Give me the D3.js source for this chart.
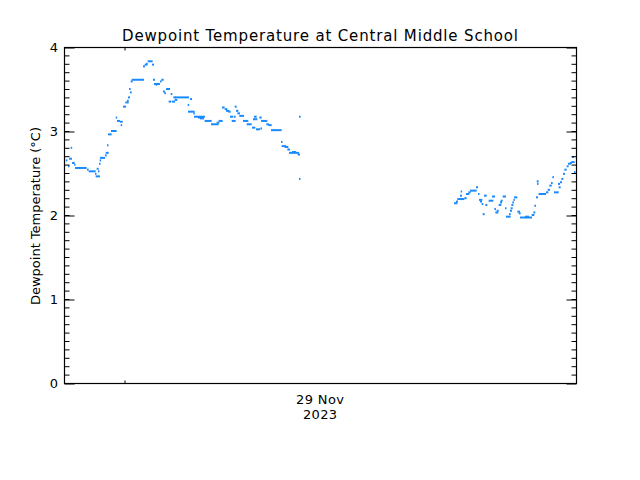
<!DOCTYPE html>
<html>
<head>
<meta charset="utf-8">
<script src="https://cdn.jsdelivr.net/npm/d3@7/dist/d3.min.js"></script>
<style>
  html, body { margin: 0; padding: 0; background: #fff; }
  svg { display: block; }
  text { font-family: "DejaVu Sans", sans-serif; fill: #000; }
</style>
</head>
<body>
<svg id="chart" width="640" height="480"></svg>
<script>
// Minutes since 28 Nov 2023 21:00 (start and end of each run of equal readings)
const runStart = [
  5, 12, 15, 20, 24, 30, 33, 69, 74, 93, 95, 98, 102, 105, 107, 108, 123, 125, 129, 132,
  141, 155, 159, 168, 170, 177, 184, 189, 192, 195, 198, 200, 203, 237, 242, 246, 251, 264, 267, 270,
  275, 288, 292, 297, 301, 306, 314, 320, 323, 328, 332, 333, 371, 378, 372, 388, 390, 402, 408, 422,
  441, 458, 464, 474, 482, 486, 493, 498, 503, 510, 512, 516, 520, 526, 537, 548, 564, 567, 570, 576,
  586, 589, 591, 607, 613, 621, 651, 653, 662, 670, 675, 684, 701, 705, 705,
  1170, 1176, 1180, 1188, 1190, 1201, 1206, 1213, 1218, 1236, 1242, 1245, 1248, 1253, 1256, 1260, 1264, 1274, 1284, 1291,
  1294, 1298, 1304, 1308, 1310, 1316, 1323, 1326, 1335, 1338, 1340, 1342, 1345, 1348, 1350, 1360, 1364, 1368, 1383, 1403,
  1408, 1411, 1416, 1418, 1419, 1424, 1446, 1451, 1456, 1461, 1465, 1470, 1482, 1484, 1488, 1492, 1497, 1501, 1508, 1512,
  1518, 1522, 1524, 1530
];
const runEnd = [
  10, 15, 24, 24, 32, 33, 68, 74, 95, 96, 108, 104, 105, 108, 110, 123, 128, 134, 132, 143,
  158, 159, 168, 176, 174, 186, 194, 194, 198, 200, 203, 206, 240, 243, 250, 251, 266, 270, 273, 288,
  279, 293, 299, 303, 306, 318, 321, 325, 333, 335, 340, 375, 374, 384, 392, 392, 423, 418, 420, 443,
  464, 466, 476, 482, 490, 496, 500, 508, 515, 515, 518, 523, 528, 540, 553, 563, 574, 580, 578, 588,
  593, 594, 610, 615, 623, 653, 654, 666, 673, 678, 705, 696, 708, 710, 708,
  1180, 1182, 1201, 1194, 1194, 1208, 1216, 1220, 1238, 1242, 1246, 1255, 1254, 1258, 1262, 1268, 1270, 1288, 1293, 1296,
  1303, 1304, 1312, 1314, 1316, 1326, 1326, 1340, 1340, 1344, 1346, 1348, 1350, 1352, 1360, 1368, 1370, 1404, 1395, 1411,
  1414, 1416, 1422, 1424, 1422, 1446, 1453, 1458, 1463, 1466, 1470, 1484, 1488, 1490, 1494, 1498, 1503, 1508, 1514, 1520,
  1524, 1532, 1530, 1534
];
const dewpoint = [
  2.65, 2.58, 2.67, 2.80, 2.62, 2.60, 2.56, 2.54, 2.52, 2.49, 2.46, 2.55, 2.52, 2.61, 2.65, 2.68, 2.71, 2.74, 2.83, 2.96,
  3.00, 3.16, 3.12, 3.11, 3.07, 3.29, 3.34, 3.36, 3.40, 3.50, 3.46, 3.59, 3.61, 3.77, 3.79, 3.80, 3.83, 3.79, 3.61, 3.56,
  3.55, 3.59, 3.61, 3.47, 3.45, 3.50, 3.35, 3.44, 3.35, 3.40, 3.37, 3.40, 3.31, 3.38, 3.23, 3.21, 3.17, 3.16, 3.15, 3.12,
  3.08, 3.10, 3.12, 3.28, 3.26, 3.24, 3.23, 3.17, 3.12, 3.17, 3.29, 3.24, 3.21, 3.18, 3.12, 3.08, 3.04, 3.14, 3.17, 3.02,
  3.16, 3.03, 3.12, 3.08, 3.07, 3.01, 2.87, 2.82, 2.81, 2.78, 2.74, 2.75, 2.72, 3.17, 2.43,
  2.14, 2.16, 2.19, 2.23, 2.28, 2.20, 2.25, 2.27, 2.29, 2.33, 2.25, 2.18, 2.16, 2.13, 2.01, 2.23, 2.12, 2.17, 2.22, 2.07,
  2.03, 2.05, 2.12, 2.15, 2.17, 2.22, 2.08, 1.98, 2.01, 2.05, 2.08, 2.12, 2.15, 2.18, 2.21, 2.04, 2.02, 1.97, 1.98, 2.00,
  2.03, 2.11, 2.21, 2.40, 2.37, 2.25, 2.27, 2.30, 2.35, 2.38, 2.45, 2.27, 2.37, 2.33, 2.39, 2.43, 2.49, 2.54, 2.58, 2.61,
  2.62, 2.63, 2.69, 2.51
];
const timeDomain = [0, 1536];
const timeTicks = [180];            // midnight, 29 Nov
const dateLabelTime = [768];
const dateLabelLines = ["29 Nov", "2023"];
const yTicks = [0, 1, 2, 3, 4];
const yMinorTicks = d3.range(0, 40).map(i => i / 10);

const svg = d3.select("#chart");
const pLeft = 64, pRight = 576, pTop = 47, pBottom = 383;
const x = d3.scaleLinear().domain(timeDomain).range([pLeft, pRight]);
const y = d3.scaleLinear().domain([0, 4]).range([pBottom, pTop]);

const runs = runStart.map((s, i) => ({ s, e: runEnd[i], v: dewpoint[i] }));

// data
svg.append("g").selectAll("rect").data(runs).join("rect")
  .attr("x", d => x(d.s))
  .attr("width", d => Math.max(x(d.e) - x(d.s), 1.5))
  .attr("y", d => y(d.v) - 1)
  .attr("height", 2)
  .attr("fill", "#1a8aff");

// frame
svg.append("rect")
  .attr("x", pLeft + 0.5).attr("y", pTop + 0.5)
  .attr("width", pRight - pLeft).attr("height", pBottom - pTop)
  .attr("fill", "none").attr("stroke", "#000").attr("stroke-width", 1.2);

// y axes (left labels, ticks inward both sides)
const yAxisL = d3.axisRight(y).tickValues(yTicks).tickSize(10).tickFormat("");
const gL = svg.append("g").attr("transform", `translate(${pLeft + 0.5},0.5)`).call(yAxisL);
gL.select(".domain").remove();
gL.append("g").selectAll("line").data(yMinorTicks).join("line")
  .attr("x1", 0).attr("x2", 5).attr("y1", d => y(d)).attr("y2", d => y(d)).attr("stroke", "#000");

const yAxisR = d3.axisLeft(y).tickValues(yTicks).tickSize(10).tickFormat("");
const gR = svg.append("g").attr("transform", `translate(${pRight + 0.5},0.5)`).call(yAxisR);
gR.select(".domain").remove();
gR.append("g").selectAll("line").data(yMinorTicks).join("line")
  .attr("x1", 0).attr("x2", -5).attr("y1", d => y(d)).attr("y2", d => y(d)).attr("stroke", "#000");

svg.append("g").selectAll("text").data(yTicks).join("text")
  .attr("x", 58).attr("y", d => y(d) + 1)
  .attr("text-anchor", "end").attr("dominant-baseline", "middle")
  .attr("font-size", 13).text(d => d);

// x ticks (bottom and top, inward)
const xAxisB = d3.axisTop(x).tickValues(timeTicks).tickSize(3).tickFormat("");
const gB = svg.append("g").attr("transform", `translate(0.5,${pBottom + 0.5})`).call(xAxisB);
gB.select(".domain").remove();
const xAxisT = d3.axisBottom(x).tickValues(timeTicks).tickSize(3).tickFormat("");
const gT = svg.append("g").attr("transform", `translate(0.5,${pTop + 0.5})`).call(xAxisT);
gT.select(".domain").remove();
svg.selectAll(".tick line").attr("stroke", "#000");

dateLabelLines.forEach((t, i) => {
  svg.append("text").attr("x", x(dateLabelTime[0])).attr("y", 404 + i * 15)
    .attr("text-anchor", "middle").attr("font-size", 13)
    .attr("textLength", i === 0 ? 48 : 34).attr("lengthAdjust", "spacing").text(t);
});

// title
svg.append("text").attr("x", 320).attr("y", 41)
  .attr("text-anchor", "middle").attr("font-size", 15)
  .attr("textLength", 396).attr("lengthAdjust", "spacing")
  .text("Dewpoint Temperature at Central Middle School");

// y label
svg.append("text").attr("transform", "translate(40,216) rotate(-90)")
  .attr("text-anchor", "middle").attr("font-size", 13)
  .attr("textLength", 178).attr("lengthAdjust", "spacing")
  .text("Dewpoint Temperature (°C)");
</script>
</body>
</html>
